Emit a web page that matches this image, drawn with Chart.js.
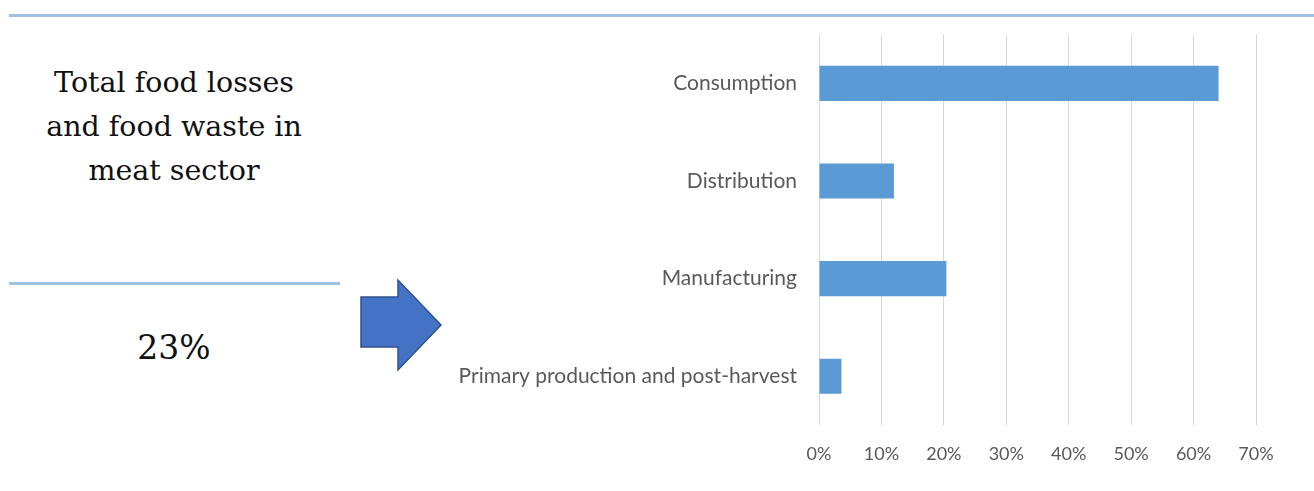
<!DOCTYPE html>
<html>
<head>
<meta charset="utf-8">
<script src="https://cdn.jsdelivr.net/npm/chart.js@4.4.1/dist/chart.umd.min.js"></script>
<style>
  html, body { margin: 0; padding: 0; background: #fff; }
  #wrap { position: relative; width: 1314px; height: 491px; overflow: hidden; }
  #chart { position: absolute; left: 0; top: 0; }
  .rule { position: absolute; height: 3px; background: #9DC3E6; }
  .serif { position: absolute; font-family: "DejaVu Serif", serif; color: #111; text-align: center; }
  #arrow { position: absolute; left: 358px; top: 278px; }
</style>
</head>
<body>
<div id="wrap">
  <div class="rule" style="left:9px; top:14px; width:1305px;"></div>
  <div class="rule" style="left:9px; top:282px; width:331px;"></div>
  <div class="serif" style="left:0; top:61px; width:348px; font-size:28.5px; line-height:44px;">Total food losses<br>and food waste in<br>meat sector</div>
  <div class="serif" style="left:0; top:326px; width:348px; font-size:33px; line-height:44px;">23%</div>
  <svg id="arrow" width="86" height="94" viewBox="0 0 86 94">
    <polygon points="3,19 40,19 40,2 83,47 40,92 40,69 3,69" fill="#4472C4" stroke="#2F528F" stroke-width="1.5"/>
  </svg>
  <canvas id="chart" width="1314" height="491"></canvas>
</div>
<script>
const stages = ['Consumption', 'Distribution', 'Manufacturing', 'Primary production and post-harvest'];
const shares = [64, 12, 20.4, 3.6];
const xTicks = [0, 10, 20, 30, 40, 50, 60, 70];

const ctl = document.getElementById('chart');
new Chart(ctl, {
    type: 'bar',
    data: {
        labels: stages,
        datasets: [
            {
                data: shares,
                backgroundColor: '#5B9BD5',
                borderWidth: 0,
                barPercentage: 0.36,
                categoryPercentage: 1
            }
        ]
    },
    options: {
        indexAxis: 'y',
        responsive: false,
        animation: false,
        layout: {
            padding: { left: 0, right: 58, top: 32, bottom: 0 }
        },
        plugins: {
            legend: { display: false },
            tooltip: { enabled: false }
        },
        scales: {
            x: {
                min: 0,
                max: 70,
                afterBuildTicks: (scale) => {
                    scale.ticks = xTicks.map(v => ({ value: v }))
                },
                afterFit: (scale) => { scale.height = 66 },
                grid: { color: '#D9D9D9', lineWidth: 1, drawTicks: false },
                border: { display: false },
                ticks: {
                    padding: 18,
                    color: '#595959',
                    font: { family: 'Lato', size: 18 },
                    callback: (v) => v + '%'
                }
            },
            y: {
                afterFit: (scale) => { scale.width = 819 },
                grid: { display: false, drawTicks: false },
                border: { display: false },
                ticks: {
                    padding: 22,
                    color: '#595959',
                    font: { family: 'Lato', size: 21 }
                }
            }
        }
    }
})
</script>
</body>
</html>
